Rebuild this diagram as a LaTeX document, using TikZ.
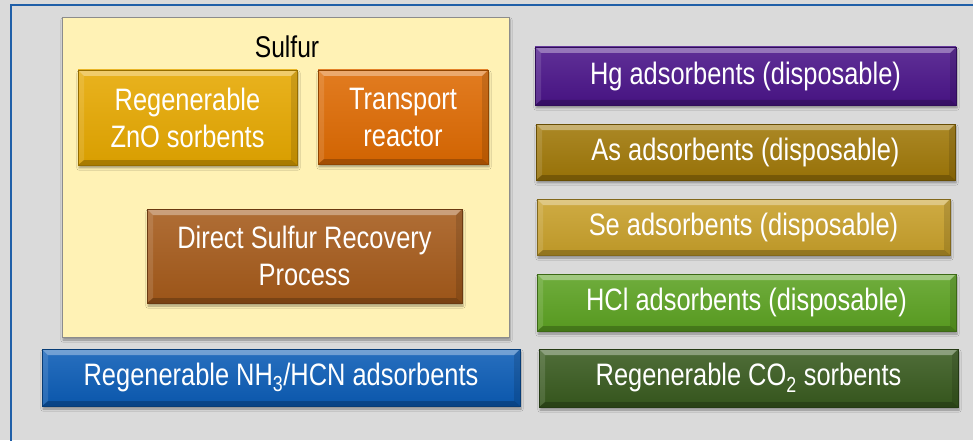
\documentclass[tikz,border=0pt]{standalone}
\usepackage{fontspec}
\setmainfont{Liberation Sans}[FakeStretch=0.82]
\usetikzlibrary{shadows.blur}
\definecolor{bgc}{HTML}{DADADA}
\definecolor{framec}{HTML}{1F5FA8}
\definecolor{sulfc}{HTML}{FFF2B5}
\definecolor{znoc}{HTML}{E6A800}
\definecolor{trc}{HTML}{DE6A02}
\definecolor{dsc}{HTML}{A55A1A}
\definecolor{nhc}{HTML}{0B5CB6}
\definecolor{hgc}{HTML}{4A1489}
\definecolor{asc}{HTML}{A07808}
\definecolor{sec}{HTML}{C8A02A}
\definecolor{hclc}{HTML}{5CA222}
\definecolor{coc}{HTML}{385A1E}
\tikzset{
  bevel/.style={path picture={
    \fill[white,opacity=0.35] (path picture bounding box.north west) -- (path picture bounding box.north east)
      -- ([xshift=-6pt,yshift=-6pt]path picture bounding box.north east) -- ([xshift=6pt,yshift=-6pt]path picture bounding box.north west) -- cycle;
    \fill[black,opacity=0.22] (path picture bounding box.south west) -- (path picture bounding box.south east)
      -- ([xshift=-6pt,yshift=5pt]path picture bounding box.south east) -- ([xshift=6pt,yshift=5pt]path picture bounding box.south west) -- cycle;
    \fill[white,opacity=0.12] (path picture bounding box.north west) -- ([xshift=6pt,yshift=-6pt]path picture bounding box.north west)
      -- ([xshift=6pt,yshift=5pt]path picture bounding box.south west) -- (path picture bounding box.south west) -- cycle;
    \fill[black,opacity=0.12] (path picture bounding box.north east) -- ([xshift=-6pt,yshift=-6pt]path picture bounding box.north east)
      -- ([xshift=-6pt,yshift=5pt]path picture bounding box.south east) -- (path picture bounding box.south east) -- cycle;
  }},
  shd/.style={blur shadow={shadow xshift=1pt,shadow yshift=-3pt,shadow blur steps=5,shadow opacity=35}},
  bx/.style={shd, draw=#1!65!black, line width=0.8pt, top color=#1!88!white, bottom color=#1!94!black,
    bevel, inner sep=0pt, align=center, text=white, font=\fontsize{31}{37}\selectfont},
  sulfbox/.style={shd, draw=black!45, line width=0.8pt, fill=sulfc, inner sep=0pt},
}
\begin{document}
\begin{tikzpicture}[x=1pt,y=1pt]
\useasboundingbox (0,0) rectangle (973,440);
\fill[bgc] (0,0) rectangle (973,440);
\draw[framec,line width=2pt] (10.5,-10) -- (10.5,434.5) -- (990,434.5);
\node[sulfbox, minimum width=447pt, minimum height=320pt] (sulfur) at (285.5,263) {};
\node[font=\fontsize{30}{36}\selectfont, inner sep=0pt] (sulfurlabel) at (287,393) {Sulfur};
\node[bx=znoc, minimum width=219pt, minimum height=95pt] (zno) at (187.5,322.5) {Regenerable\\ZnO sorbents};
\node[bx=trc, minimum width=170pt, minimum height=94pt] (transport) at (403,323) {Transport\\reactor};
\node[bx=dsc, minimum width=315pt, minimum height=94pt] (dsrp) at (304.5,184) {Direct Sulfur Recovery\\Process};
\node[bx=nhc, minimum width=478pt, minimum height=57pt] (nh3) at (281,62.5) {Regenerable NH\textsubscript{3}/HCN adsorbents};
\node[bx=hgc, minimum width=421pt, minimum height=58pt] (hg) at (745.5,364) {Hg adsorbents (disposable)};
\node[bx=asc, minimum width=419pt, minimum height=56pt] (as) at (745.5,288) {As adsorbents (disposable)};
\node[bx=sec, minimum width=413pt, minimum height=56pt] (se) at (743.5,213) {Se adsorbents (disposable)};
\node[bx=hclc, minimum width=419pt, minimum height=57pt] (hcl) at (746.5,137.5) {HCl adsorbents (disposable)};
\node[bx=coc, minimum width=419pt, minimum height=58pt] (co2) at (748.5,62) {Regenerable CO\textsubscript{2} sorbents};
\end{tikzpicture}
\end{document}
